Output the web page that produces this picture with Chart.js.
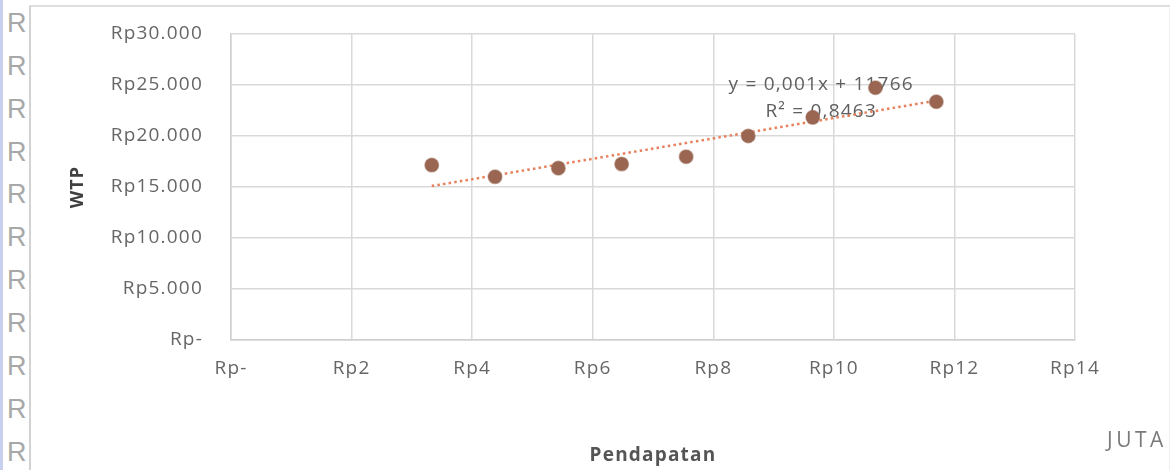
<!DOCTYPE html>
<html>
<head>
<meta charset="utf-8">
<title>WTP vs Pendapatan</title>
<script src="https://cdn.jsdelivr.net/npm/chart.js@4.4.1/dist/chart.umd.min.js"></script>
<style>
  html, body { margin: 0; padding: 0; background: #fff; }
  body { width: 1174px; height: 470px; position: relative; overflow: hidden; }
  #edge { position: absolute; left: 0; top: 0; width: 3px; height: 470px; background: #c9d0ee; }
  #marks { position: absolute; left: 0; top: 0; width: 29px; height: 470px; }
  #marks span { position: absolute; left: 7px; font: 27px "Liberation Sans", sans-serif; line-height: 1; color: #a8a8a8; }
  #frame { position: absolute; left: 29px; top: 5px; width: 1138px; height: 480px;
           border-left: 2px solid #d2d2d2; border-top: 2px solid #dedede; border-right: 1px solid #efefef; }
  #chart { position: absolute; left: 0; top: 0; }
</style>
</head>
<body>
<div id="edge"></div>
<div id="marks"></div>
<div id="frame"></div>
<canvas id="chart" width="1174" height="470"></canvas>
<script>
// Pendapatan (income, in juta rupiah) and WTP (rupiah) per respondent group
const INCOME_JUTA = [3.33, 4.38, 5.43, 6.48, 7.55, 8.58, 9.65, 10.69, 11.70];
const WTP_RP      = [17150, 16000, 16850, 17250, 17970, 20000, 21830, 24730, 23360];

// Axis tick labels
const X_TICK_LABELS = ['Rp-', 'Rp2', 'Rp4', 'Rp6', 'Rp8', 'Rp10', 'Rp12', 'Rp14'];
const Y_TICK_LABELS = ['Rp-', 'Rp5.000', 'Rp10.000', 'Rp15.000', 'Rp20.000', 'Rp25.000', 'Rp30.000'];

// Linear trendline: y = 0,001x + 11766 (x in rupiah), R² = 0,8463
const TREND_SLOPE = 0.001;
const TREND_INTERCEPT = 11766;
const TREND_R2 = '0,8463';
const JUTA = 1000000;

// Side margin letters
const marks = document.getElementById('marks');
for (let i = 0; i < 11; i++) {
  const s = document.createElement('span');
  s.textContent = 'R';
  s.style.top = (23 + i * 42.9 - 13.2) + 'px';
  marks.appendChild(s);
}

const trendAt = xJuta => TREND_SLOPE * xJuta * JUTA + TREND_INTERCEPT;
const xFirst = Math.min(...INCOME_JUTA);
const xLast = Math.max(...INCOME_JUTA);

const TEXT_SPACING = '1.2px';
const letterSpacing = {
  id: 'letterSpacing',
  beforeLayout(chart) { chart.ctx.letterSpacing = TEXT_SPACING; },
  beforeDraw(chart) { chart.ctx.letterSpacing = TEXT_SPACING; }
};

// Trendline equation (drawn beneath the markers) and the unit note
const annotations = {
  id: 'annotations',
  beforeDatasetsDraw(chart) {
    const { ctx, scales: { x, y } } = chart;
    ctx.save();
    ctx.letterSpacing = TEXT_SPACING;
    ctx.fillStyle = '#5f5f5f';
    ctx.font = '19px "Open Sans", sans-serif';
    ctx.textAlign = 'center';
    ctx.textBaseline = 'middle';
    const cx = x.getPixelForValue(9.79);
    ctx.fillText('y = ' + String(TREND_SLOPE).replace('.', ',') + 'x + ' + TREND_INTERCEPT, cx, y.getPixelForValue(25050));
    ctx.fillText('R\u00B2 = ' + TREND_R2, cx, y.getPixelForValue(22400));
    ctx.restore();
  },
  afterDraw(chart) {
    const { ctx } = chart;
    ctx.save();
    ctx.letterSpacing = '3.5px';
    ctx.fillStyle = '#7a7a7a';
    ctx.font = '21px "Open Sans", sans-serif';
    ctx.textAlign = 'left';
    ctx.textBaseline = 'middle';
    ctx.fillText('JUTA', 1107, 441);
    ctx.restore();
  }
};

Chart.defaults.font.family = '"Open Sans", sans-serif';
Chart.defaults.font.size = 19;
Chart.defaults.color = '#666';

new Chart(document.getElementById('chart'), {
  type: 'scatter',
  data: {
    datasets: [
      {
        label: 'WTP',
        data: INCOME_JUTA.map((v, i) => ({ x: v, y: WTP_RP[i] })),
        backgroundColor: '#9a6652',
        borderColor: 'rgba(150,100,80,0.55)',
        borderWidth: 1.5,
        pointRadius: 6.8,
        order: 0
      },
      {
        type: 'line',
        label: 'Linear (WTP)',
        data: [{ x: xFirst, y: trendAt(xFirst) }, { x: xLast, y: trendAt(xLast) }],
        borderColor: '#e8805c',
        borderWidth: 2.5,
        borderDash: [2.5, 3.2],
        pointRadius: 0,
        fill: false,
        order: 1
      }
    ]
  },
  options: {
    responsive: false,
    animation: false,
    layout: { padding: { left: 36, right: 99, top: 34, bottom: 0 } },
    plugins: {
      legend: { display: false },
      tooltip: { enabled: false }
    },
    scales: {
      x: {
        type: 'linear',
        min: 0, max: 14,
        afterFit(scale) { scale.height = 130; },
        grid: { color: '#d9d9d9', lineWidth: 1.5, drawTicks: false },
        border: { color: '#cfcfcf', width: 1.5 },
        ticks: {
          stepSize: 2,
          padding: 17,
          maxRotation: 0,
          callback: (v, i) => X_TICK_LABELS[i]
        },
        title: {
          display: true,
          text: 'Pendapatan',
          color: '#555',
          font: { size: 19, weight: 'bold' },
          padding: { top: 0, bottom: 3 }
        }
      },
      y: {
        type: 'linear',
        min: 0, max: 30000,
        afterFit(scale) {
          scale.width = 231 - 36;
          // keep the tick padding from pushing the plot area down
          scale.paddingTop = 0;
          scale.paddingBottom = 0;
        },
        grid: { color: '#d9d9d9', lineWidth: 1.5, drawTicks: false },
        border: { color: '#cfcfcf', width: 1.5 },
        ticks: {
          stepSize: 5000,
          padding: 28,
          callback: (v, i) => Y_TICK_LABELS[i]
        },
        title: {
          display: true,
          text: 'WTP',
          color: '#404040',
          font: { size: 18, weight: 'bold' },
          padding: { top: 31, bottom: 0 }
        }
      }
    }
  },
  plugins: [letterSpacing, annotations]
});
</script>
</body>
</html>
